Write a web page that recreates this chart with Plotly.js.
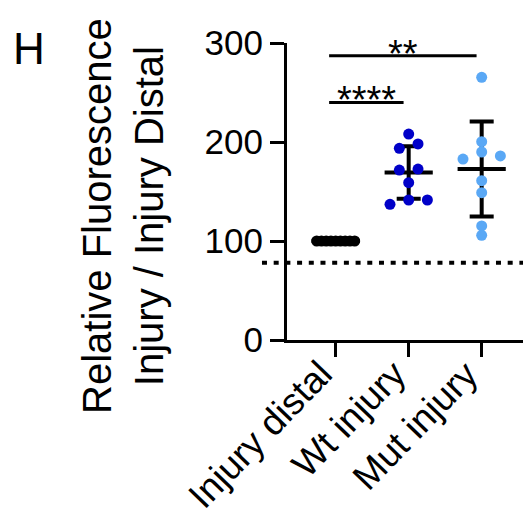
<!DOCTYPE html>
<html>
<head>
<meta charset="utf-8">
<script src="https://cdn.plot.ly/plotly-3.0.1.min.js"></script>
<style>html,body{margin:0;padding:0;background:#fff;}</style>
</head>
<body>
<div id="chart" style="width:523px;height:518px;"></div>
<script>
// ---- data ----
const categories = ['Injury distal', 'Wt injury', 'Mut injury'];
const injuryDistal = [100, 100, 100, 100, 100, 100, 100, 100, 100];
const wtInjury = [208, 198, 193.6, 172.7, 171.7, 158.9, 141.4, 141.4, 137];
const mutInjury = [265.3, 200.3, 189.9, 185.9, 182.8, 160.9, 148.8, 115.2, 105.7];
const yTickVals = [0, 100, 200, 300];
const baselineValue = [78];
const sigLabels = ['****', '**'];
const sigPairs = [[0, 1], [0, 2]];
const sigLevels = [240, 287];

// ---- styling ----
const groups = [injuryDistal, wtInjury, mutInjury];
const groupColors = ['#000000', '#0000C8', '#5AA8F5'];
const FONT = 'Liberation Sans, Arial, Helvetica, sans-serif';
const xRange = [-0.667, 2.566];
const yRange = [0, 300];

function mean(a) { return a.reduce((s, v) => s + v, 0) / a.length; }
function sd(a) {
  const m = mean(a);
  return Math.sqrt(a.reduce((s, v) => s + (v - m) * (v - m), 0) / (a.length - 1));
}
// simple row-based swarm layout (Prism-like)
function swarm(vals, rowTol, slot, maxHalf) {
  const idx = vals.map((v, i) => i).sort((a, b) => vals[a] - vals[b]);
  const rows = []; let cur = [];
  idx.forEach(i => {
    if (cur.length && vals[i] - vals[cur[cur.length - 1]] > rowTol) { rows.push(cur); cur = []; }
    cur.push(i);
  });
  if (cur.length) rows.push(cur);
  const off = new Array(vals.length).fill(0);
  rows.forEach(r => {
    const n = r.length;
    const sp = n > 1 ? Math.min(slot, 2 * maxHalf / (n - 1)) : 0;
    const slots = r.map((_, k) => (k - (n - 1) / 2) * sp);
    let order = r.slice();
    if (n % 2 === 1 && n >= 3) {
      // highest point of an odd row sits in the centre slot
      const top = order.pop();
      order.splice((n - 1) / 2, 0, top);
    }
    order.forEach((i, k) => { off[i] = slots[k]; });
  });
  return off;
}

const traces = [];
groups.forEach((g, gi) => {
  const m = mean(g), s = sd(g);
  // SD error bar
  traces.push({
    type: 'scatter', mode: 'markers', x: [gi], y: [m],
    marker: { size: 1, opacity: 0 }, hoverinfo: 'skip', showlegend: false,
    error_y: { type: 'data', array: [s], visible: s > 0, color: '#000', thickness: 4, width: 12 }
  });
  // mean line
  traces.push({
    type: 'scatter', mode: 'lines', x: [gi - 0.33, gi + 0.33], y: [m, m],
    line: { color: '#000', width: 4 }, hoverinfo: 'skip', showlegend: false
  });
});
groups.forEach((g, gi) => {
  const off = swarm(g, 9, 0.256, 0.26);
  traces.push({
    type: 'scatter', mode: 'markers', name: categories[gi],
    x: g.map((v, i) => gi + off[i]), y: g,
    marker: { color: groupColors[gi], size: 11 }, showlegend: false, cliponaxis: false
  });
});

const shapes = [{
  type: 'line', xref: 'paper', yref: 'paper', x0: -0.106, x1: 1.02,
  y0: baselineValue[0] / yRange[1], y1: baselineValue[0] / yRange[1],
  line: { color: '#000', width: 4, dash: '5px,6.7px' }
}];
const annotations = [];
sigPairs.forEach((p, k) => {
  shapes.push({
    type: 'line', xref: 'x', yref: 'y', x0: p[0] - 0.09, x1: p[1] - 0.07,
    y0: sigLevels[k], y1: sigLevels[k], line: { color: '#000', width: 3 }
  });
  annotations.push({
    xref: 'x', yref: 'y', x: (p[0] - 0.09 + p[1] - 0.07) / 2, y: sigLevels[k] + 2,
    text: sigLabels[k], showarrow: false, xanchor: 'center', yanchor: 'middle',
    font: { family: FONT, size: 38, color: '#000' }
  });
});
// rotated category labels
categories.forEach((c, gi) => {
  annotations.push({
    xref: 'x', yref: 'y', x: gi, y: 0, xanchor: 'right', yanchor: 'top',
    xshift: 6, yshift: -12, text: c, textangle: -46, showarrow: false,
    borderpad: 0, font: { family: FONT, size: 37, color: '#000' }
  });
});
annotations.push({
  xref: 'paper', yref: 'paper', x: -0.695, y: 0.4175, xanchor: 'center', yanchor: 'middle',
  text: 'Relative Fluorescence<br>Injury / Injury Distal', textangle: -90, showarrow: false,
  font: { family: FONT, size: 40, color: '#000' }
});
annotations.push({
  xref: 'paper', yref: 'paper', x: -1.093, y: 0.983, xanchor: 'center', yanchor: 'middle',
  text: 'H', showarrow: false, font: { family: FONT, size: 44, color: '#000' }
});

const layout = {
  width: 523, height: 518,
  margin: { l: 287, r: 0, t: 43, b: 178, pad: 0 },
  paper_bgcolor: '#fff', plot_bgcolor: '#fff',
  font: { family: FONT, color: '#000' },
  showlegend: false,
  xaxis: {
    type: 'linear', range: xRange, tickvals: [0, 1, 2], showticklabels: false,
    ticks: 'outside', ticklen: 14, tickwidth: 3, tickcolor: '#000',
    showline: true, linewidth: 3, linecolor: '#000', showgrid: false, zeroline: false,
    fixedrange: true
  },
  yaxis: {
    range: yRange, tickvals: yTickVals, ticktext: yTickVals.map(String),
    ticks: 'outside', ticklen: 14, tickwidth: 3, tickcolor: '#000',
    showline: true, linewidth: 3, linecolor: '#000', showgrid: false, zeroline: false,
    tickfont: { family: FONT, size: 35, color: '#000' }, fixedrange: true
  },
  shapes: shapes,
  annotations: annotations
};

Plotly.newPlot('chart', traces, layout, { staticPlot: true, displayModeBar: false });
</script>
</body>
</html>
